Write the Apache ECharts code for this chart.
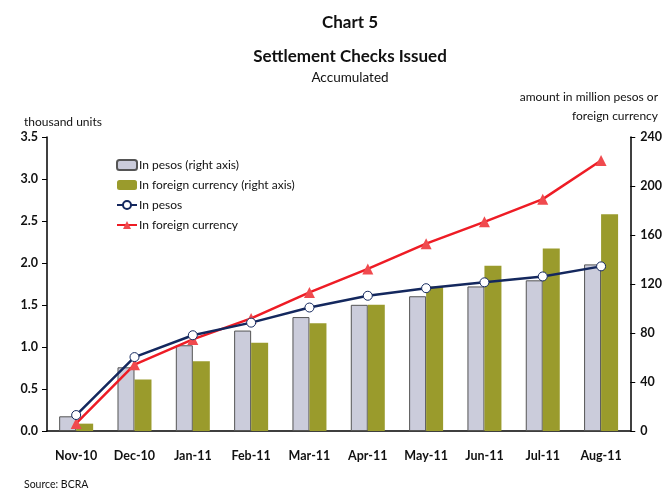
<!DOCTYPE html>
<html>
<head>
<meta charset="utf-8">
<script src="https://cdn.jsdelivr.net/npm/echarts@6/dist/echarts.min.js"></script>
<style>
  html, body { margin: 0; padding: 0; background: #fff; }
  #chart { width: 665px; height: 488px; }
</style>
</head>
<body>
<div id="chart"></div>
<script>
(function () {
  var months = ['Nov-10', 'Dec-10', 'Jan-11', 'Feb-11', 'Mar-11', 'Apr-11', 'May-11', 'Jun-11', 'Jul-11', 'Aug-11'];
  // amounts, million (right axis)
  var amountPesos = [12, 52, 70, 82, 93, 103, 110, 118, 123, 136];
  var amountForeign = [6, 42, 57, 72, 88, 103, 118, 135, 149, 177];
  // thousand units (left axis)
  var unitsPesos = [0.19, 0.88, 1.14, 1.29, 1.47, 1.61, 1.70, 1.77, 1.84, 1.96];
  var unitsForeign = [0.09, 0.79, 1.09, 1.34, 1.65, 1.93, 2.23, 2.49, 2.76, 3.22];

  var font = 'Lato, "Open Sans", sans-serif';
  var chart = echarts.init(document.getElementById('chart'));

  chart.setOption({
    animation: false,
    textStyle: { fontFamily: font, color: '#111' },
    title: [
      { text: 'Chart 5', left: 345, top: 9, textAlign: 'center',
        textStyle: { fontFamily: font, fontSize: 17, fontWeight: 'bold', color: '#111' } },
      { text: 'Settlement Checks Issued', left: 345, top: 43, textAlign: 'center',
        textStyle: { fontFamily: font, fontSize: 17, fontWeight: 'bold', color: '#111' } },
      { text: 'Accumulated', left: 345, top: 66, textAlign: 'center',
        textStyle: { fontFamily: font, fontSize: 13.5, fontWeight: 'normal', color: '#111' } },
      { text: 'thousand units', left: 19, top: 111,
        textStyle: { fontFamily: font, fontSize: 12, fontWeight: 'normal', color: '#111' } },
      { text: 'amount in million pesos or', right: 2, top: 86,
        textStyle: { fontFamily: font, fontSize: 12, fontWeight: 'normal', color: '#111' } },
      { text: 'foreign currency', right: 2, top: 105,
        textStyle: { fontFamily: font, fontSize: 12, fontWeight: 'normal', color: '#111' } },
      { text: 'Source: BCRA', left: 19, top: 474,
        textStyle: { fontFamily: font, fontSize: 10.5, fontWeight: 'normal', color: '#111' } }
    ],
    legend: {
      orient: 'vertical',
      left: 111,
      top: 154,
      itemWidth: 20,
      itemHeight: 10,
      itemGap: 8,
      textStyle: { fontFamily: font, fontSize: 12, color: '#111', padding: [0, 0, 0, -3] },
      data: ['In pesos (right axis)', 'In foreign currency (right axis)', 'In pesos', 'In foreign currency']
    },
    grid: { left: 47, right: 31, top: 137, bottom: 57 },
    xAxis: {
      type: 'category',
      data: months,
      axisLine: { lineStyle: { color: '#000', width: 1.5 } },
      axisTick: { show: false },
      axisLabel: { margin: 18, fontSize: 12.5, fontWeight: 'bold', color: '#111', fontFamily: font }
    },
    yAxis: [
      {
        type: 'value', min: 0, max: 3.5, interval: 0.5, position: 'left',
        axisLine: { show: true, lineStyle: { color: '#000', width: 1.5 } },
        axisTick: { show: true, length: 5, lineStyle: { color: '#000' } },
        splitLine: { show: false },
        axisLabel: { margin: 9, fontSize: 12.5, fontWeight: 'bold', color: '#111', fontFamily: font,
          formatter: function (v) { return v.toFixed(1); } }
      },
      {
        type: 'value', min: 0, max: 240, interval: 40, position: 'right',
        axisLine: { show: true, lineStyle: { color: '#000', width: 1.5 } },
        axisTick: { show: true, length: 5, lineStyle: { color: '#000' } },
        splitLine: { show: false },
        axisLabel: { margin: 10, fontSize: 12.5, fontWeight: 'bold', color: '#111', fontFamily: font }
      }
    ],
    series: [
      {
        name: 'In pesos (right axis)', type: 'bar', yAxisIndex: 1, data: amountPesos,
        barWidth: 17, barGap: '0%',
        itemStyle: { color: '#cbccdb', borderColor: '#555', borderWidth: 1 }
      },
      {
        name: 'In foreign currency (right axis)', type: 'bar', yAxisIndex: 1, data: amountForeign,
        barWidth: 17, barGap: '0%',
        itemStyle: { color: '#9a9b2c' }
      },
      {
        name: 'In pesos', type: 'line', yAxisIndex: 0, data: unitsPesos, z: 4,
        symbol: 'circle', symbolSize: 9,
        lineStyle: { color: '#14285e', width: 2.5 },
        itemStyle: { color: '#fff', borderColor: '#14285e', borderWidth: 1 }
      },
      {
        name: 'In foreign currency', type: 'line', yAxisIndex: 0, data: unitsForeign, z: 3,
        symbol: 'triangle', symbolSize: 11,
        lineStyle: { color: '#ee1c25', width: 2.5 },
        itemStyle: { color: '#f04a4e', borderColor: '#ee1c25', borderWidth: 0 }
      }
    ]
  });
})();
</script>
</body>
</html>
